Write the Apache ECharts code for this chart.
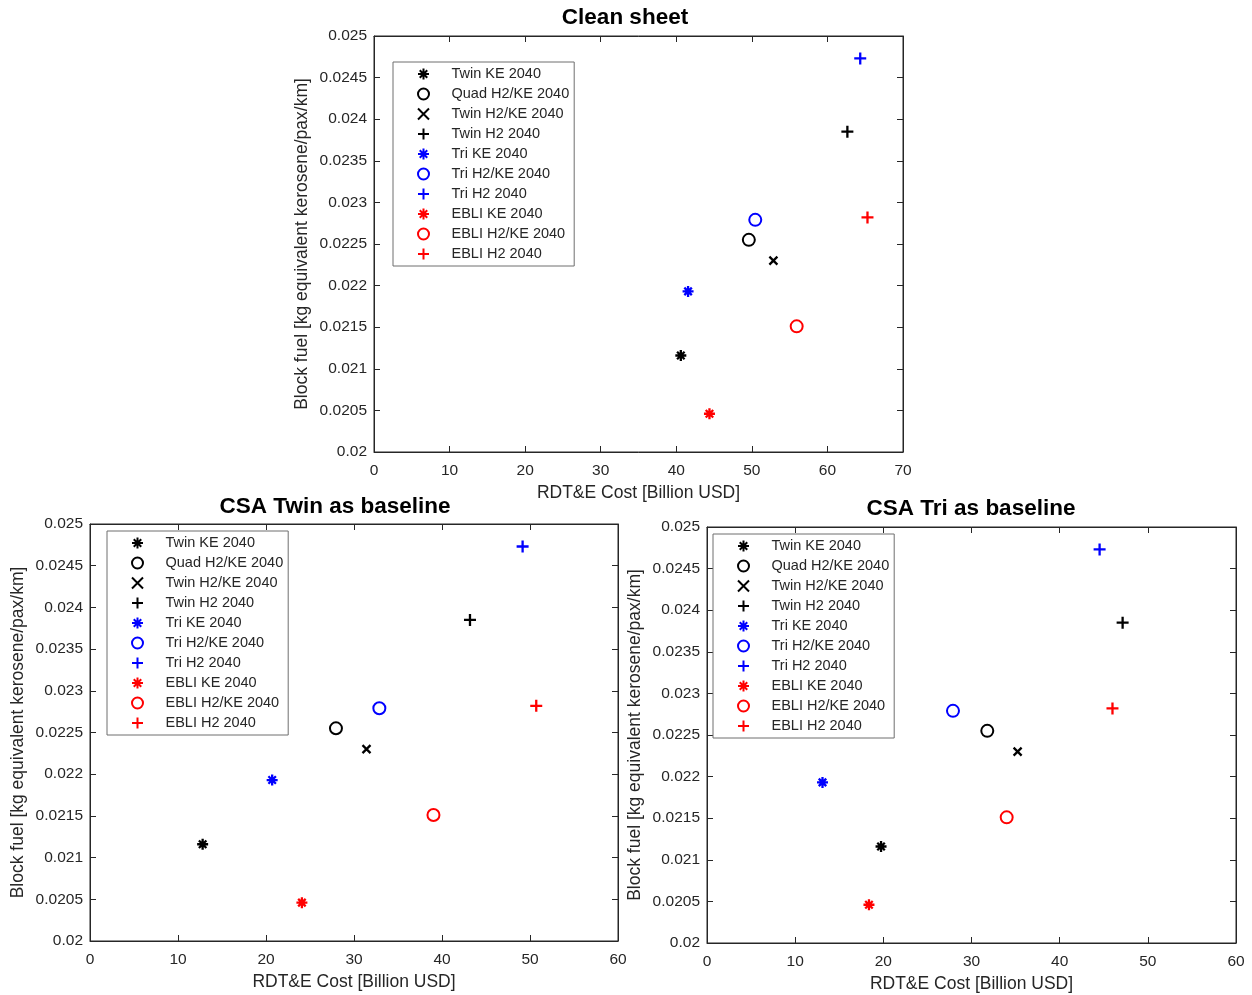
<!DOCTYPE html>
<html>
<head>
<meta charset="utf-8">
<script src="https://cdn.jsdelivr.net/npm/echarts@6/dist/echarts.min.js"></script>
<style>html,body{margin:0;padding:0;background:#fff;}#c{width:1252px;height:995px;}</style>
</head>
<body>
<div id="c"></div>
<script>
// ---- Data ----
const seriesNames = ['Twin KE 2040','Quad H2/KE 2040','Twin H2/KE 2040','Twin H2 2040','Tri KE 2040','Tri H2/KE 2040','Tri H2 2040','EBLI KE 2040','EBLI H2/KE 2040','EBLI H2 2040'];
const blockFuel = [0.02116, 0.02255, 0.02230, 0.02385, 0.02193, 0.02279, 0.02473, 0.02046, 0.02151, 0.02282];
const costCleanSheet = [40.6, 49.6, 52.85, 62.64, 41.56, 50.45, 64.34, 44.39, 55.93, 65.3];
const costTwinBase = [12.8, 27.95, 31.42, 43.18, 20.7, 32.88, 49.16, 24.08, 39.03, 50.71];
const costTriBase = [19.74, 31.79, 35.23, 47.14, 13.1, 27.9, 44.53, 18.37, 33.99, 45.99];
const panelTitles = ['Clean sheet', 'CSA Twin as baseline', 'CSA Tri as baseline'];
const xMaxes = [70, 60, 60];
const xTitle = 'RDT&E Cost [Billion USD]';
const yTitle = 'Block fuel [kg equivalent kerosene/pax/km]';

// ---- Styles ----
const colors = ['#000000','#000000','#000000','#000000','#0000ff','#0000ff','#0000ff','#ff0000','#ff0000','#ff0000'];
const STAR = 'path://M5,0L5,10M0,5L10,5M1.6,1.6L8.4,8.4M8.4,1.6L1.6,8.4';
const PLUS = 'path://M0,5L10,5M5,0L5,10';
const CROSS = 'path://M0,0L10,10M10,0L0,10';
const CIRCLE = 'emptyCircle';
const symbols = [STAR,CIRCLE,CROSS,PLUS,STAR,CIRCLE,PLUS,STAR,CIRCLE,PLUS];
const symSizes = [11,12,8,12,11,12,12,11,12,12];
const FONT = 'Liberation Sans';
const TXT = '#262626';

const grids = [
  {left:374, top:36, width:529, height:416},
  {left:90, top:524, width:528, height:417},
  {left:707, top:527, width:529, height:416}
];
const titlePos = [{x:620,y:1},{x:330,y:490},{x:966,y:492}];
const legendPos = [{left:393, top:62},{left:107, top:531},{left:713, top:534}];
const costs = [costCleanSheet, costTwinBase, costTriBase];

const xAxes = [], yAxes = [], series = [], titles = [], legends = [];
grids.forEach((g, gi) => {
  const xCommon = {gridIndex:gi, type:'value', min:0, max:xMaxes[gi], interval:10,
    splitLine:{show:false},
    axisLine:{show:true, onZero:false, lineStyle:{color:TXT, width:1}},
    axisTick:{show:true, inside:true, length:6, lineStyle:{color:TXT}}};
  xAxes.push(Object.assign({}, xCommon, {position:'bottom',
    axisLabel:{fontSize:15.5, color:TXT, fontFamily:FONT, margin:11},
    name:xTitle, nameLocation:'middle', nameGap:32,
    nameTextStyle:{fontSize:17.5, color:TXT, fontFamily:FONT}}));
  xAxes.push(Object.assign({}, xCommon, {position:'top', axisLabel:{show:false}}));
  const yCommon = {gridIndex:gi, type:'value', min:0.02, max:0.025, interval:0.0005,
    splitLine:{show:false},
    axisLine:{show:true, onZero:false, lineStyle:{color:TXT, width:1}},
    axisTick:{show:true, inside:true, length:6, lineStyle:{color:TXT}}};
  yAxes.push(Object.assign({}, yCommon, {position:'left',
    axisLabel:{fontSize:15.5, color:TXT, fontFamily:FONT, margin:7,
      formatter: v => String(+(+v).toFixed(4))},
    name:yTitle, nameLocation:'middle', nameGap:63, nameRotate:90,
    nameTextStyle:{fontSize:17.5, color:TXT, fontFamily:FONT}}));
  yAxes.push(Object.assign({}, yCommon, {position:'right', axisLabel:{show:false}}));

  titles.push({text:panelTitles[gi], left:titlePos[gi].x, top:titlePos[gi].y, textAlign:'center',
    textStyle:{fontSize:22.5, fontWeight:'bold', color:'#000', fontFamily:FONT}});

  legends.push({orient:'vertical', left:legendPos[gi].left, top:legendPos[gi].top,
    data:seriesNames, selectedMode:false,
    backgroundColor:'#fff', borderColor:'#6f6f6f', borderWidth:1,
    padding:[4,5,4,24], itemWidth:22, itemHeight:11, itemGap:4,
    textStyle:{fontSize:14.5, color:TXT, fontFamily:FONT, lineHeight:16, padding:[0,0,0,12]}});

  seriesNames.forEach((nm, si) => {
    const isCircle = symbols[si] === CIRCLE;
    series.push({type:'scatter', name:nm, xAxisIndex:gi*2, yAxisIndex:gi*2,
      symbol:symbols[si], symbolSize:symSizes[si],
      itemStyle: isCircle
        ? {color:colors[si], borderWidth:2.3, opacity:1}
        : {color:colors[si], borderColor:colors[si], borderWidth:2.3, opacity:1},
      emphasis:{disabled:true},
      data:[[costs[gi][si], blockFuel[si]]]});
  });
});

const chart = echarts.init(document.getElementById('c'), null, {renderer:'canvas'});
chart.setOption({
  animation:false,
  backgroundColor:'#fff',
  title:titles,
  legend:legends,
  grid:grids.map(g => Object.assign({show:true, borderColor:TXT, borderWidth:1, backgroundColor:'#fff', containLabel:false}, g)),
  xAxis:xAxes,
  yAxis:yAxes,
  series:series
});
</script>
</body>
</html>
